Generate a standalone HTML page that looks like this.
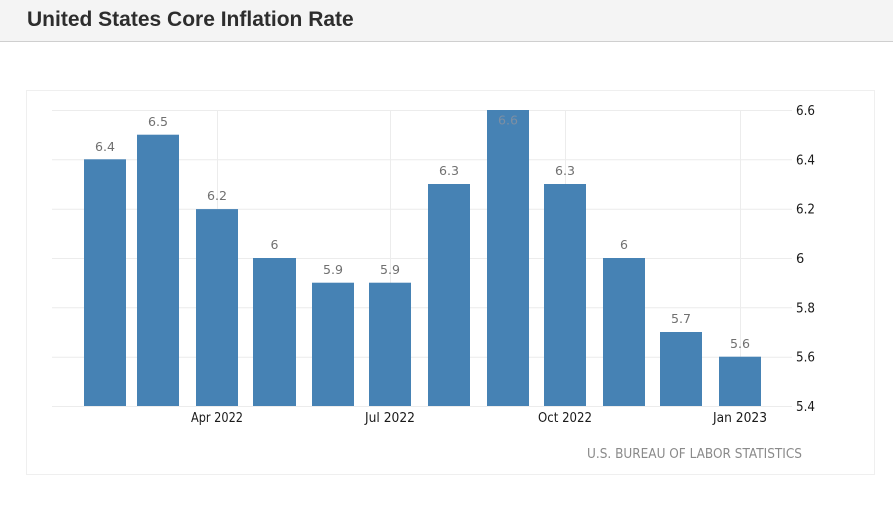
<!DOCTYPE html>
<html>
<head>
<meta charset="utf-8">
<style>
  html, body { margin:0; padding:0; background:#fff; width:893px; height:508px; overflow:hidden; }
  .hdr { position:absolute; left:0; top:0; width:893px; height:41px; background:#f4f4f4; border-bottom:1px solid #cfcfcf; }
  .hdr h1 { margin:0; position:absolute; left:27px; top:9px; line-height:21px; font:bold 21px/21px "Liberation Sans", Arial, sans-serif; color:#2d2d2d; }
  svg { position:absolute; left:0; top:0; }
</style>
</head>
<body>
<div class="hdr"><h1>United States Core Inflation Rate</h1></div>
<svg width="893" height="508" viewBox="0 0 893 508" xmlns="http://www.w3.org/2000/svg">
  <!-- chart box -->
  <rect x="26.5" y="90.5" width="848" height="384" fill="none" stroke="#efefef" stroke-width="1"/>
  <!-- horizontal grid -->
  <g stroke="#ececec" stroke-width="1">
    <line x1="52" y1="110.5" x2="792" y2="110.5"/>
    <line x1="52" y1="159.8" x2="792" y2="159.8"/>
    <line x1="52" y1="209.2" x2="792" y2="209.2"/>
    <line x1="52" y1="258.5" x2="792" y2="258.5"/>
    <line x1="52" y1="307.8" x2="792" y2="307.8"/>
    <line x1="52" y1="357.2" x2="792" y2="357.2"/>
    <line x1="52" y1="406.5" x2="792" y2="406.5"/>
  </g>
  <!-- vertical grid -->
  <g stroke="#ececec" stroke-width="1">
    <line x1="217.5" y1="110" x2="217.5" y2="406"/>
    <line x1="390.5" y1="110" x2="390.5" y2="406"/>
    <line x1="565.5" y1="110" x2="565.5" y2="406"/>
    <line x1="740.5" y1="110" x2="740.5" y2="406"/>
  </g>
  <!-- bars -->
  <g fill="#4682b4">
    <rect x="84" y="159.3" width="42" height="246.7"/>
    <rect x="137" y="134.7" width="42" height="271.3"/>
    <rect x="196" y="209.1" width="42" height="196.9"/>
    <rect x="253" y="258.0" width="43" height="148.0"/>
    <rect x="312" y="282.7" width="42" height="123.3"/>
    <rect x="369" y="282.7" width="42" height="123.3"/>
    <rect x="428" y="184.0" width="42" height="222.0"/>
    <rect x="487" y="110.0" width="42" height="296.0"/>
    <rect x="544" y="184.0" width="42" height="222.0"/>
    <rect x="603" y="258.0" width="42" height="148.0"/>
    <rect x="660" y="332.0" width="42" height="74.0"/>
    <rect x="719" y="356.7" width="42" height="49.3"/>
  </g>
  <!-- value labels -->
  <g font-family="DejaVu Sans, Verdana, sans-serif" font-size="12.5" fill="#707070" text-anchor="middle">
    <text x="105" y="151" textLength="20" lengthAdjust="spacingAndGlyphs">6.4</text>
    <text x="158" y="126" textLength="20" lengthAdjust="spacingAndGlyphs">6.5</text>
    <text x="217" y="200" textLength="20" lengthAdjust="spacingAndGlyphs">6.2</text>
    <text x="274.5" y="249">6</text>
    <text x="333" y="274" textLength="20" lengthAdjust="spacingAndGlyphs">5.9</text>
    <text x="390" y="274" textLength="20" lengthAdjust="spacingAndGlyphs">5.9</text>
    <text x="449" y="175" textLength="20" lengthAdjust="spacingAndGlyphs">6.3</text>
    <text x="508" y="124.5" fill="#7d8fa3" textLength="20" lengthAdjust="spacingAndGlyphs">6.6</text>
    <text x="565" y="175" textLength="20" lengthAdjust="spacingAndGlyphs">6.3</text>
    <text x="624" y="249">6</text>
    <text x="681" y="323" textLength="20" lengthAdjust="spacingAndGlyphs">5.7</text>
    <text x="740" y="348" textLength="20" lengthAdjust="spacingAndGlyphs">5.6</text>
  </g>
  <!-- y axis labels -->
  <g font-family="DejaVu Sans, Verdana, sans-serif" font-size="13" fill="#1a1a1a">
    <text x="796" y="115" textLength="19" lengthAdjust="spacingAndGlyphs">6.6</text>
    <text x="796" y="164.3" textLength="19" lengthAdjust="spacingAndGlyphs">6.4</text>
    <text x="796" y="213.7" textLength="19" lengthAdjust="spacingAndGlyphs">6.2</text>
    <text x="796" y="263">6</text>
    <text x="796" y="312.3" textLength="19" lengthAdjust="spacingAndGlyphs">5.8</text>
    <text x="796" y="361.7" textLength="19" lengthAdjust="spacingAndGlyphs">5.6</text>
    <text x="796" y="411" textLength="19" lengthAdjust="spacingAndGlyphs">5.4</text>
  </g>
  <!-- x axis labels -->
  <g font-family="DejaVu Sans, Verdana, sans-serif" font-size="13" fill="#1a1a1a" text-anchor="middle">
    <text x="217" y="422" textLength="52" lengthAdjust="spacingAndGlyphs">Apr 2022</text>
    <text x="390" y="422" textLength="50" lengthAdjust="spacingAndGlyphs">Jul 2022</text>
    <text x="565" y="422" textLength="54" lengthAdjust="spacingAndGlyphs">Oct 2022</text>
    <text x="740" y="422" textLength="54" lengthAdjust="spacingAndGlyphs">Jan 2023</text>
  </g>
  <!-- source -->
  <text x="587" y="458" font-family="DejaVu Sans, Verdana, sans-serif" font-size="13.5" fill="#8a8a8a" textLength="215" lengthAdjust="spacingAndGlyphs">U.S. BUREAU OF LABOR STATISTICS</text>
</svg>
</body>
</html>
